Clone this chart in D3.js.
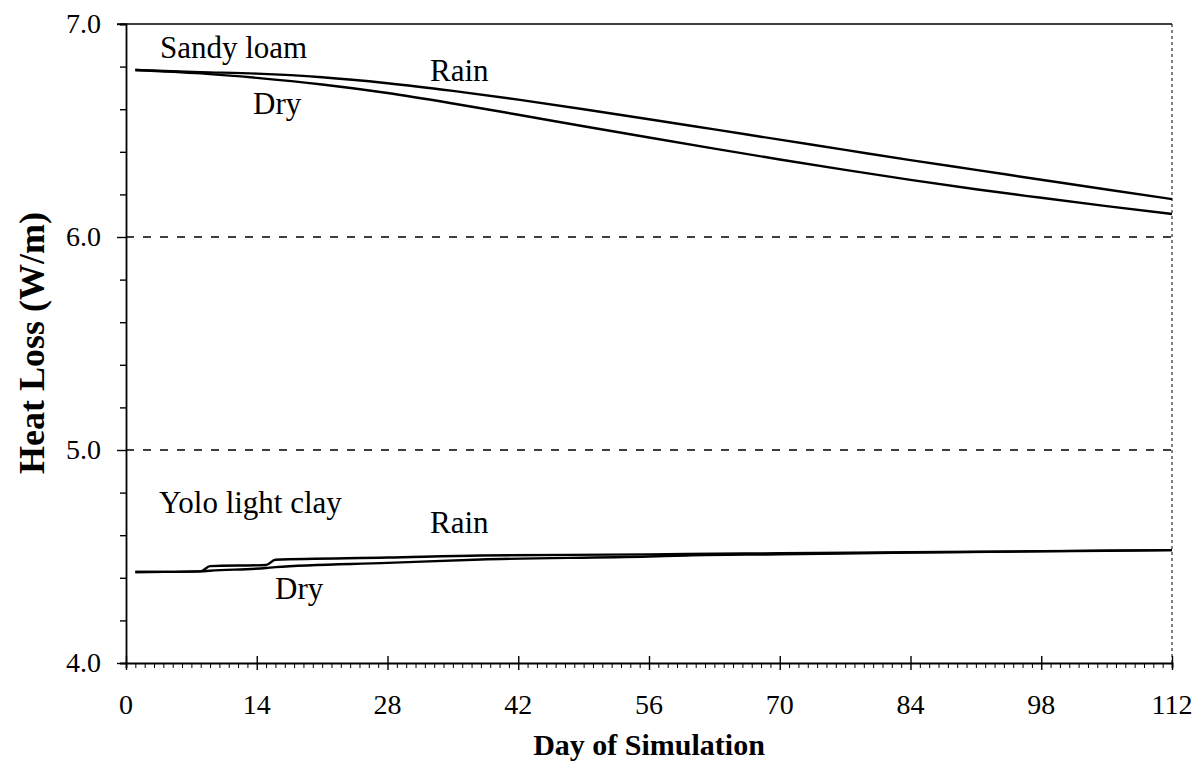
<!DOCTYPE html>
<html>
<head>
<meta charset="utf-8">
<script src="https://cdn.jsdelivr.net/npm/d3@7"></script>
<style>
  html, body { margin: 0; padding: 0; background: #fff; }
  svg { display: block; }
  svg text { font-family: "Liberation Serif", Tinos, "Times New Roman", Times, "DejaVu Serif", serif !important; }
</style>
</head>
<body>
<svg id="chart" width="1204" height="764"></svg>
<script>
// Heat loss per metre of pipe over a 112-day simulation, two soils, dry vs. rain
const days = [1, 8, 14, 21, 28, 35, 42, 49, 56, 63, 70, 77, 84, 91, 98, 105, 112];
const sandyDry  = [6.784, 6.768, 6.747, 6.716, 6.676, 6.627, 6.574, 6.520, 6.467, 6.415, 6.364, 6.315, 6.268, 6.224, 6.184, 6.145, 6.108];
const sandyRain = [6.784, 6.774, 6.767, 6.750, 6.722, 6.686, 6.645, 6.600, 6.553, 6.505, 6.457, 6.409, 6.361, 6.315, 6.269, 6.223, 6.178];

const yoloDays = [1, 8, 9, 15, 16, 28, 38, 56, 60, 70, 84, 98, 112];
const yoloRain = [4.427, 4.430, 4.455, 4.460, 4.485, 4.495, 4.505, 4.510, 4.512, 4.515, 4.520, 4.525, 4.530];
const yoloDry  = [4.427, 4.430, 4.433, 4.446, 4.450, 4.470, 4.486, 4.500, 4.505, 4.510, 4.518, 4.524, 4.530];

const xTicks = [0, 14, 28, 42, 56, 70, 84, 98, 112];
const yTicks = [4.0, 5.0, 6.0, 7.0];
const gridValues = [5.0, 6.0];

const FONT = '"Liberation Serif", Tinos, "Times New Roman", Times, "DejaVu Serif", serif';

const svg = d3.select("#chart");
const plotL = 126, plotR = 1172, plotT = 24, plotB = 663;

const x = d3.scaleLinear().domain([0, 112]).range([plotL, plotR]);
const y = d3.scaleLinear().domain([4, 7]).range([plotB, plotT]);

// dashed gridlines
svg.selectAll("line.grid").data(gridValues).join("line")
  .attr("class", "grid")
  .attr("x1", plotL).attr("x2", plotR)
  .attr("y1", d => y(d)).attr("y2", d => y(d))
  .attr("stroke", "#000").attr("stroke-width", 1.6)
  .attr("stroke-dasharray", "8,9");

// top frame (solid) and right frame (dotted)
svg.append("line").attr("x1", plotL - 9).attr("x2", plotR).attr("y1", plotT).attr("y2", plotT)
  .attr("stroke", "#000").attr("stroke-width", 1.6);
svg.append("line").attr("x1", plotR).attr("x2", plotR).attr("y1", plotT).attr("y2", plotB)
  .attr("stroke", "#000").attr("stroke-width", 1).attr("stroke-dasharray", "3,3");

// y axis: majors every 1.0, minors every 0.2
const yAxis = d3.axisLeft(y).tickValues(d3.range(4, 7.001, 0.2)).tickSize(6)
  .tickFormat("");
const gy = svg.append("g").attr("transform", `translate(${plotL},0)`).call(yAxis);
gy.select(".domain").attr("stroke-width", 1.8);
gy.selectAll(".tick line").attr("stroke-width", 1.4);
gy.selectAll(".tick").filter(d => Math.abs(d - Math.round(d)) < 1e-6)
  .select("line").attr("x2", -9);

svg.selectAll("text.ytick").data(yTicks).join("text")
  .attr("class", "ytick")
  .attr("x", 101).attr("y", d => y(d) + 9)
  .attr("text-anchor", "end")
  .style("font-family", FONT)
  .attr("font-size", 28)
  .text(d => d.toFixed(1));

// x axis: daily minor ticks, majors every 14 days crossing the axis
const xAxis = d3.axisBottom(x).tickValues(d3.range(0, 113, 1)).tickSize(5).tickFormat("");
const gx = svg.append("g").attr("transform", `translate(0,${plotB})`).call(xAxis);
gx.select(".domain").attr("stroke-width", 1.8);
gx.selectAll(".tick line").attr("stroke-width", 1);
gx.selectAll(".tick").filter(d => d % 14 === 0)
  .select("line").attr("y1", -7).attr("y2", 7).attr("stroke-width", 1.4);

svg.selectAll("text.xtick").data(xTicks).join("text")
  .attr("class", "xtick")
  .attr("x", d => x(d)).attr("y", 714)
  .attr("text-anchor", "middle")
  .style("font-family", FONT)
  .attr("font-size", 28)
  .text(d => d);

// axis titles
svg.append("text")
  .attr("x", 649).attr("y", 755)
  .attr("text-anchor", "middle")
  .style("font-family", FONT)
  .attr("font-size", 30).attr("font-weight", "bold")
  .text("Day of Simulation");
svg.append("text")
  .attr("transform", "translate(44,343) rotate(-90)")
  .attr("text-anchor", "middle")
  .style("font-family", FONT)
  .attr("font-size", 36).attr("font-weight", "bold")
  .text("Heat Loss (W/m)");

// series
const line = d3.line().x(d => x(d[0])).y(d => y(d[1])).curve(d3.curveMonotoneX);
const series = [
  d3.zip(days, sandyRain),
  d3.zip(days, sandyDry),
  d3.zip(yoloDays, yoloRain),
  d3.zip(yoloDays, yoloDry)
];
svg.selectAll("path.series").data(series).join("path")
  .attr("class", "series")
  .attr("d", line)
  .attr("fill", "none")
  .attr("stroke", "#000")
  .attr("stroke-width", 2.4);

// annotations
const notes = [
  { t: "Sandy loam", x: 160, y: 58 },
  { t: "Rain", x: 430, y: 81 },
  { t: "Dry", x: 253, y: 114 },
  { t: "Yolo light clay", x: 159, y: 513 },
  { t: "Rain", x: 430, y: 533 },
  { t: "Dry", x: 275, y: 599 }
];
svg.selectAll("text.note").data(notes).join("text")
  .attr("class", "note")
  .attr("x", d => d.x).attr("y", d => d.y)
  .style("font-family", FONT)
  .attr("font-size", 31)
  .text(d => d.t);
</script>
</body>
</html>
